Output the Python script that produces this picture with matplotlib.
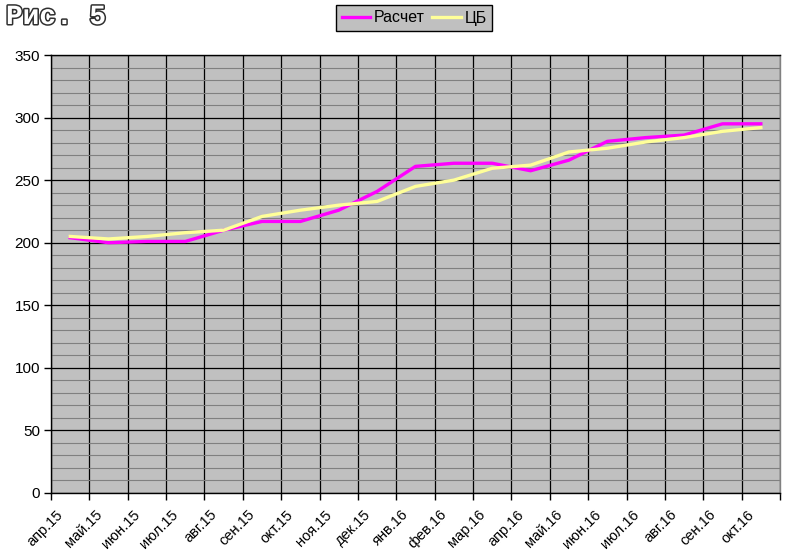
import matplotlib
matplotlib.use("Agg")
import matplotlib.pyplot as plt
import matplotlib.patheffects as pe
from matplotlib.ticker import FixedLocator, NullFormatter, MultipleLocator
from matplotlib.transforms import ScaledTranslation

months = ["апр.15", "май.15", "июн.15", "июл.15", "авг.15", "сен.15", "окт.15",
          "ноя.15", "дек.15", "янв.16", "фев.16", "мар.16", "апр.16", "май.16",
          "июн.16", "июл.16", "авг.16", "сен.16", "окт.16"]
raschet = [204, 200, 201, 201, 210, 217, 217, 226, 241, 261, 263.5, 263.5, 257.5,
           266, 281, 284, 286, 295, 295]
cb = [205, 203, 205, 208, 210, 221, 226, 230, 233, 245, 250, 259.5, 262,
      272.5, 275.5, 280.5, 284, 289, 292]

plt.rcParams['font.family'] = ['Liberation Sans', 'DejaVu Sans']

fig = plt.figure(figsize=(7.85, 5.59), dpi=100)
ax = fig.add_axes([51/785, 66/559, (780-51)/785, (493-55)/559])
ax.set_facecolor('#c0c0c0')

x = list(range(len(months)))
ax.plot(x, raschet, color='#ff00ff', lw=2.4, label='Расчет', zorder=3)
ax.plot(x, cb, color='#ffff99', lw=2.4, label='ЦБ', zorder=3)

ax.set_xlim(-0.5, len(months) - 0.5)
ax.set_ylim(0, 350)

bounds = [i - 0.5 for i in range(len(months) + 1)]
ax.xaxis.set_major_locator(FixedLocator(bounds))
ax.xaxis.set_major_formatter(NullFormatter())
ax.xaxis.set_minor_locator(FixedLocator(x))
ax.set_xticklabels(months, minor=True)
ax.tick_params(axis='x', which='major', length=5, width=1, color='black', direction='out')
ax.tick_params(axis='x', which='minor', length=0, pad=14, labelsize=10.5)

ax.yaxis.set_major_locator(MultipleLocator(50))
ax.yaxis.set_minor_locator(MultipleLocator(10))
ax.tick_params(axis='y', which='major', length=5, width=1, color='black', direction='out', labelsize=11, pad=3)
ax.tick_params(axis='y', which='minor', length=0)

ax.grid(which='minor', axis='y', color='#808080', lw=0.8, zorder=1)
ax.grid(which='major', axis='y', color='black', lw=0.9, zorder=1)
ax.grid(which='major', axis='x', color='black', lw=0.9, zorder=1)
ax.set_axisbelow(True)

for s in ['left', 'bottom', 'top']:
    ax.spines[s].set_color('black')
    ax.spines[s].set_linewidth(1)
ax.spines['right'].set_color('#808080')
ax.spines['right'].set_linewidth(1)

off = ScaledTranslation(-9/100, 0, fig.dpi_scale_trans)
for lab in ax.get_xticklabels(minor=True):
    lab.set_rotation(45)
    lab.set_rotation_mode('anchor')
    lab.set_ha('right')
    lab.set_va('center')
    lab.set_transform(lab.get_transform() + off)

leg = fig.legend(loc='center', bbox_to_anchor=(414/785, 1 - 18/559), ncol=2,
                 frameon=True, fancybox=False, shadow=False, fontsize=11.5,
                 handlelength=1.8, handletextpad=0.2, columnspacing=0.5,
                 borderpad=0.35, borderaxespad=0)
leg.get_frame().set_facecolor('#c0c0c0')
leg.get_frame().set_edgecolor('black')
leg.get_frame().set_linewidth(1)
leg.get_frame().set_alpha(1)

fig.text(6/785, 1 - 17/559, 'Рис. 5', family=['Liberation Mono', 'DejaVu Sans Mono'],
         fontweight='bold', fontsize=20, color='white', va='center', ha='left',
         path_effects=[pe.withStroke(linewidth=2.2, foreground='#303030')])

fig.savefig('out.png', dpi=100)
